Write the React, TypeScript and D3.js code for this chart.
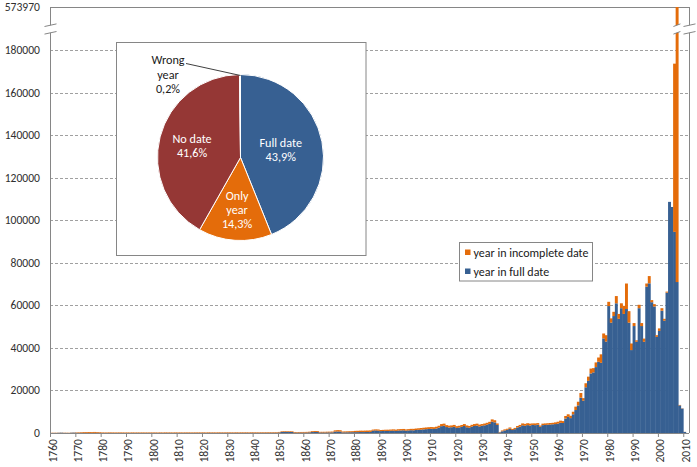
import React from 'react';
import * as d3 from 'd3';

const firstYear = 1760;

// year in full date (blue), one value per year 1760..2010
const fullDate: number[] = [
  20, 40, 30, 120, 150, 60, 40, 30, 150, 180,
  100, 60, 80, 90, 80, 70, 60, 90, 120, 80,
  40, 30, 40, 50, 40, 30, 40, 50, 30, 40,
  40, 50, 40, 50, 60, 50, 40, 50, 60, 50,
  50, 60, 50, 60, 50, 60, 70, 60, 50, 60,
  60, 50, 60, 70, 60, 50, 60, 70, 60, 70,
  70, 60, 70, 80, 70, 60, 70, 80, 70, 80,
  80, 70, 80, 90, 80, 70, 80, 90, 80, 90,
  90, 80, 100, 90, 100, 110, 100, 120, 110, 130,
  250, 500, 550, 520, 500, 480, 200, 180, 200, 190,
  200, 220, 300, 450, 500, 480, 250, 230, 240, 260,
  280, 300, 650, 700, 680, 300, 320, 340, 360, 380,
  400, 420, 450, 440, 460, 480, 500, 1100, 1200, 1100,
  900, 950, 1000, 980, 1050, 1100, 1000, 1150, 1200, 1250,
  1100, 1200, 1300, 1250, 1400, 1500, 1600, 1700, 1800, 1900,
  2000, 1900, 2100, 2500, 3200, 3400, 2800, 2600, 2700, 2900,
  2400, 2600, 2900, 3300, 2700, 2500, 3000, 3300, 3500, 3100,
  3400, 3600, 3900, 4300, 5300, 5000, 3800, 300, 800, 1200,
  1500, 2000, 1400, 1800, 2600, 3000, 3600, 3400, 3700, 3500,
  3800, 3700, 3900, 2900, 3700, 3800, 3900, 4000, 4100, 4200,
  4400, 4800, 4700, 6800, 7600, 7000, 8800, 10800, 13000, 16600,
  15200, 21500, 24500, 28000, 28500, 31000, 33500, 33000, 44500, 43000,
  59700, 51900, 55000, 61000, 53700, 58700, 56000, 58300, 51900, 39000,
  50300, 42900, 58700, 50300, 42900, 68800, 70400, 61500, 59500, 45200,
  48000, 57500, 52800, 66000, 108700, 106300, 94600, 71000, 13000, 11500,
  500,
];

// year in incomplete date (orange), one value per year 1760..2010
const incompleteDate: number[] = [
  100, 100, 100, 80, 60, 100, 100, 100, 80, 80,
  200, 250, 300, 350, 380, 400, 380, 400, 350, 300,
  250, 220, 230, 250, 240, 230, 220, 240, 230, 220,
  220, 210, 230, 220, 210, 220, 230, 220, 210, 220,
  230, 220, 210, 230, 220, 240, 230, 220, 230, 240,
  230, 240, 220, 230, 240, 230, 220, 240, 230, 240,
  240, 230, 250, 240, 230, 240, 250, 240, 230, 250,
  250, 240, 230, 250, 240, 250, 260, 240, 250, 260,
  260, 250, 240, 260, 250, 260, 270, 250, 260, 270,
  250, 300, 300, 320, 300, 300, 280, 270, 280, 300,
  300, 310, 320, 400, 450, 420, 300, 320, 330, 340,
  350, 360, 600, 650, 620, 400, 420, 450, 460, 480,
  600, 620, 640, 650, 660, 680, 700, 500, 500, 550,
  500, 520, 540, 560, 580, 600, 600, 620, 640, 650,
  600, 620, 650, 700, 700, 720, 750, 780, 800, 820,
  800, 820, 850, 900, 1000, 1000, 900, 850, 850, 900,
  800, 800, 850, 900, 850, 800, 850, 900, 900, 850,
  800, 850, 900, 950, 1100, 1000, 700, 200, 400, 500,
  500, 600, 500, 600, 700, 800, 900, 900, 900, 900,
  700, 800, 750, 600, 700, 700, 700, 700, 700, 800,
  900, 1000, 900, 1200, 1200, 1100, 1200, 1600, 1700, 2200,
  1200, 1900, 2000, 2300, 2000, 2200, 2000, 4000, 2300, 3000,
  2000, 2000, 2000, 3400, 2300, 2300, 3800, 12000, 5400, 3100,
  1400, 700, 1600, 1400, 1500, 1500, 3400, 1000, 1100, 800,
  1200, 1200, 900, 500, 0, 0, 79100, 502970, 200, 100,
  50,
];

const xTickLabels = [
  '1760', '1770', '1780', '1790', '1800', '1810', '1820', '1830', '1840',
  '1850', '1860', '1870', '1880', '1890', '1900', '1910', '1920', '1930',
  '1940', '1950', '1960', '1970', '1980', '1990', '2000', '2010',
];
const yTickValues = [0, 20000, 40000, 60000, 80000, 100000, 120000, 140000, 160000, 180000];
const yBreakValue = 190000;
const yMaxValue = 573970;

const legendLabels = ['year in incomplete date', 'year in full date'];

const pieNames = [['Full date'], ['Only', 'year'], ['No date'], ['Wrong', 'year']];
const pieValues = [43.9, 14.3, 41.6, 0.2];
const pieValueLabels = ['43,9%', '14,3%', '41,6%', '0,2%'];

const BLUE = '#376092';
const ORANGE = '#E46C0A';
const RED = '#953735';
const GRAY = '#A6A6A6';
const AXIS = '#868686';
const FONT = 'Carlito, Calibri, Lato, sans-serif';

export default function App() {
  const W = 697;
  const H = 467;
  const plotLeft = 50;
  const plotRight = 689;
  const plotTop = 7;
  const plotBottom = 433;
  const step = 2.533;

  const years = fullDate.map((_, i) => String(firstYear + i));
  const x = d3
    .scaleBand<string>()
    .domain(years)
    .range([plotLeft, plotLeft + years.length * step])
    .padding(0);
  const y = d3
    .scaleLinear()
    .domain([0, yBreakValue, yMaxValue])
    .range([plotBottom, 29, plotTop]);
  const yb = y(yBreakValue);
  const bw = x.bandwidth();

  const breakMark = (cx: number, half: number, key: string) => {
    const s = 2.6;
    const g = 3.8;
    return (
      <g key={key}>
        <polygon
          points={`${cx - half},${yb - g + s / 2} ${cx + half},${yb - g - s / 2} ${cx + half},${yb + g - s / 2} ${cx - half},${yb + g + s / 2}`}
          fill="#fff"
        />
        <line x1={cx - half} y1={yb - g + s / 2} x2={cx + half} y2={yb - g - s / 2} stroke={AXIS} strokeWidth={1} />
        <line x1={cx - half} y1={yb + g + s / 2} x2={cx + half} y2={yb + g - s / 2} stroke={AXIS} strokeWidth={1} />
      </g>
    );
  };

  // pie
  const pcx = 240.5;
  const pcy = 157.5;
  const pr = 83;
  const pieGen = d3.pie<number>().sort(null).value((d) => d);
  const arcs = pieGen(pieValues);
  const arcGen = d3.arc<d3.PieArcDatum<number>>().innerRadius(0).outerRadius(pr);
  const pieColors = [BLUE, ORANGE, RED, GRAY];
  const labelRadii = [41, 52, 50];
  const labelColors = ['#fff', '#fff', '#fff'];

  const maxIdx = fullDate.findIndex((v, i) => v + incompleteDate[i] >= yMaxValue);
  const tickFont = 11.6;

  return (
    <svg
      width={W}
      height={H}
      viewBox={`0 0 ${W} ${H}`}
      style={{ position: 'absolute', left: 0, top: 0, background: '#fff' }}
      fontFamily={FONT}
    >
      {/* gridlines */}
      {yTickValues.slice(1).map((v) => (
        <line
          key={'g' + v}
          x1={plotLeft}
          x2={plotRight}
          y1={Math.round(y(v)) + 0.5}
          y2={Math.round(y(v)) + 0.5}
          stroke="#a0a0a0"
          strokeDasharray="3,2"
          strokeWidth={1}
        />
      ))}
      {/* plot border top/right */}
      <line x1={plotLeft} x2={plotRight} y1={plotTop + 0.5} y2={plotTop + 0.5} stroke={AXIS} />
      <line x1={plotRight + 0.5} x2={plotRight + 0.5} y1={plotTop} y2={plotBottom} stroke={AXIS} />

      {/* bars */}
      {years.map((yr, i) => {
        const f = fullDate[i];
        const inc = incompleteDate[i];
        const x0 = x(yr) as number;
        return (
          <g key={yr}>
            {f > 0 && (
              <rect x={x0} y={y(f)} width={bw + 0.4} height={plotBottom - y(f)} fill={BLUE} />
            )}
            {inc > 0 && (
              <rect x={x0} y={y(f + inc)} width={bw + 0.4} height={y(f) - y(f + inc)} fill={ORANGE} />
            )}
          </g>
        );
      })}

      {/* axes */}
      <line x1={plotLeft + 0.5} x2={plotLeft + 0.5} y1={plotTop} y2={plotBottom} stroke={AXIS} />
      <line x1={plotLeft} x2={plotRight} y1={plotBottom + 0.5} y2={plotBottom + 0.5} stroke={AXIS} />
      {xTickLabels.map((lab) => {
        const xt = x(lab) as number;
        return (
          <g key={'t' + lab}>
            <line x1={xt + 0.5} x2={xt + 0.5} y1={plotBottom} y2={plotBottom + 4} stroke={AXIS} />
            <text
              transform={`translate(${xt + 2.5},${plotBottom + 6}) rotate(-90)`}
              textAnchor="end"
              dominantBaseline="central"
              fontSize={tickFont}
              fill="#303030"
            >
              {lab}
            </text>
          </g>
        );
      })}
      {yTickValues.map((v) => (
        <text key={'y' + v} x={40} y={y(v)} textAnchor="end" dominantBaseline="central" fontSize={tickFont} fill="#303030">
          {v}
        </text>
      ))}
      <text x={40} y={y(yMaxValue)} textAnchor="end" dominantBaseline="central" fontSize={tickFont} fill="#303030">
        {yMaxValue}
      </text>

      {/* breaks */}
      {breakMark(plotLeft + 0.5, 6, 'bl')}
      {breakMark(plotRight + 0.5, 6, 'br')}
      {maxIdx >= 0 && breakMark((x(years[maxIdx]) as number) + bw / 2, 3.5, 'bb')}

      {/* pie inset */}
      <rect x={116.5} y={42.5} width={249.5} height={213} fill="#fff" stroke={AXIS} />
      <g transform={`translate(${pcx},${pcy})`}>
        {arcs.map((a, i) => (
          <path key={'p' + i} d={arcGen(a) as string} fill={pieColors[i]} stroke="#fff" strokeWidth={1} />
        ))}
        {arcs.slice(0, 3).map((a, i) => {
          const c = d3.arc<d3.PieArcDatum<number>>().innerRadius(labelRadii[i]).outerRadius(labelRadii[i]).centroid(a);
          const lines = [...pieNames[i], pieValueLabels[i]];
          const lh = 14;
          const y0 = c[1] - ((lines.length - 1) * lh) / 2;
          return (
            <text key={'pl' + i} textAnchor="middle" fontSize={12.2} fill={labelColors[i]}>
              {lines.map((t, j) => (
                <tspan key={j} x={c[0]} y={y0 + j * lh} dominantBaseline="central">
                  {t}
                </tspan>
              ))}
            </text>
          );
        })}
      </g>
      {/* wrong year label */}
      <line x1={186} y1={63.5} x2={pcx} y2={pcy - pr + 1} stroke="#404040" strokeWidth={1} />
      <text textAnchor="middle" fontSize={12.2} fill="#202020">
        {[...pieNames[3], pieValueLabels[3]].map((t, j) => (
          <tspan key={j} x={168} y={59.5 + j * 14.5} dominantBaseline="central">
            {t}
          </tspan>
        ))}
      </text>

      {/* legend */}
      <rect x={459.5} y={242.5} width={133} height={38.5} fill="#fff" stroke={AXIS} />
      {legendLabels.map((lab, i) => (
        <g key={'lg' + i}>
          <rect x={465} y={249.5 + i * 19} width={5.5} height={5.5} fill={i === 0 ? ORANGE : BLUE} />
          <text x={473.5} y={252.5 + i * 19} dominantBaseline="central" fontSize={12} fill="#202020">
            {lab}
          </text>
        </g>
      ))}
    </svg>
  );
}
